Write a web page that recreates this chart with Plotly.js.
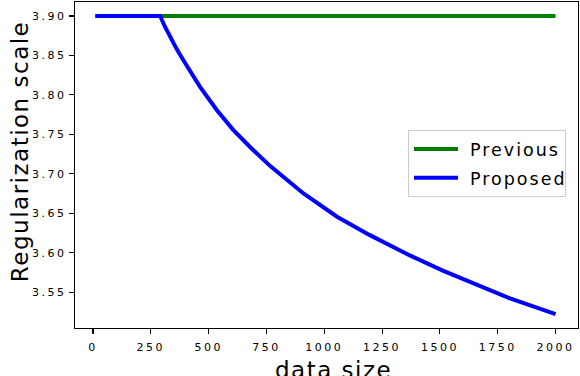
<!DOCTYPE html>
<html><head><meta charset="utf-8">
<script src="https://cdn.plot.ly/plotly-3.0.1.min.js"></script>
<style>
body{margin:0;padding:0;background:#fff}
#chart{width:580px;height:376px}
.xtick text,.ytick text{letter-spacing:2.5px}
.legendtext{letter-spacing:2px;transform:translateX(7px)}
.annotation-text{letter-spacing:1.5px}
</style>
</head><body><div id="chart"></div>
<script>
var seriesNames = ["Previous", "Proposed"];
var previousX = [10, 2000];
var previousY = [3.9, 3.9];
var proposedX = [10, 100, 200, 290, 310, 333, 360, 390, 425, 462, 535, 605, 680, 765, 910, 1055, 1195, 1310, 1370, 1515, 1660, 1800, 2000];
var proposedY = [3.9, 3.9, 3.9, 3.9, 3.887, 3.8738, 3.859, 3.8442, 3.827, 3.8104, 3.7808, 3.756, 3.7336, 3.71, 3.675, 3.6455, 3.6225, 3.605, 3.5965, 3.577, 3.559, 3.5425, 3.522];
var xTicks = [0, 250, 500, 750, 1000, 1250, 1500, 1750, 2000];
var yTicks = [3.55, 3.60, 3.65, 3.70, 3.75, 3.80, 3.85, 3.90];
var xTitle = "data size";
var yTitle = "Regularization scale";

var font = "DejaVu Sans, sans-serif";
var traces = [
  {x: previousX, y: previousY, mode: "lines", name: seriesNames[0], legendgroup: "a",
   line: {color: "#008000", width: 4}},
  {x: proposedX, y: proposedY, mode: "lines", name: seriesNames[1], legendgroup: "b",
   line: {color: "#0000ff", width: 4}}
];
var layout = {
  width: 580, height: 376,
  margin: {l: 75, r: 2, t: 2, b: 48},
  paper_bgcolor: "#fff", plot_bgcolor: "#fff",
  font: {family: font, color: "#000"},
  showlegend: true,
  legend: {x: 0.662, y: 0.607, xanchor: "left", yanchor: "top",
    bgcolor: "rgba(255,255,255,0.8)", bordercolor: "#cccccc", borderwidth: 1,
    font: {family: font, size: 17.5, color: "#000"},
    itemwidth: 44,
    traceorder: "grouped", tracegroupgap: 3},
  xaxis: {range: [-78, 2097], tickvals: xTicks, ticktext: xTicks.map(String),
    showgrid: false, zeroline: false, showline: true, linecolor: "#000", linewidth: 1.3,
    mirror: true, ticks: "outside", ticklen: 5, tickwidth: 1.1, tickcolor: "#000",
    ticklabelstandoff: 3,
    tickfont: {family: font, size: 11, color: "#000"}},
  yaxis: {range: [3.5045, 3.9177], tickvals: yTicks, ticktext: yTicks.map(function(v){return v.toFixed(2);}),
    showgrid: false, zeroline: false, showline: true, linecolor: "#000", linewidth: 1.3,
    mirror: true, ticks: "outside", ticklen: 5, tickwidth: 1.1, tickcolor: "#000",
    tickfont: {family: font, size: 11, color: "#000"}},
  annotations: [
    {text: yTitle, xref: "paper", yref: "paper", x: -0.109, y: 0.54,
     xanchor: "center", yanchor: "middle", textangle: -90, showarrow: false,
     font: {family: font, size: 23, color: "#000"}},
    {text: xTitle, xref: "paper", yref: "paper", x: 0.513, y: -0.0828,
     xanchor: "center", yanchor: "top", showarrow: false,
     font: {family: font, size: 23, color: "#000"}}
  ]
};
Plotly.newPlot("chart", traces, layout, {displayModeBar: false, staticPlot: true});
</script></body></html>
